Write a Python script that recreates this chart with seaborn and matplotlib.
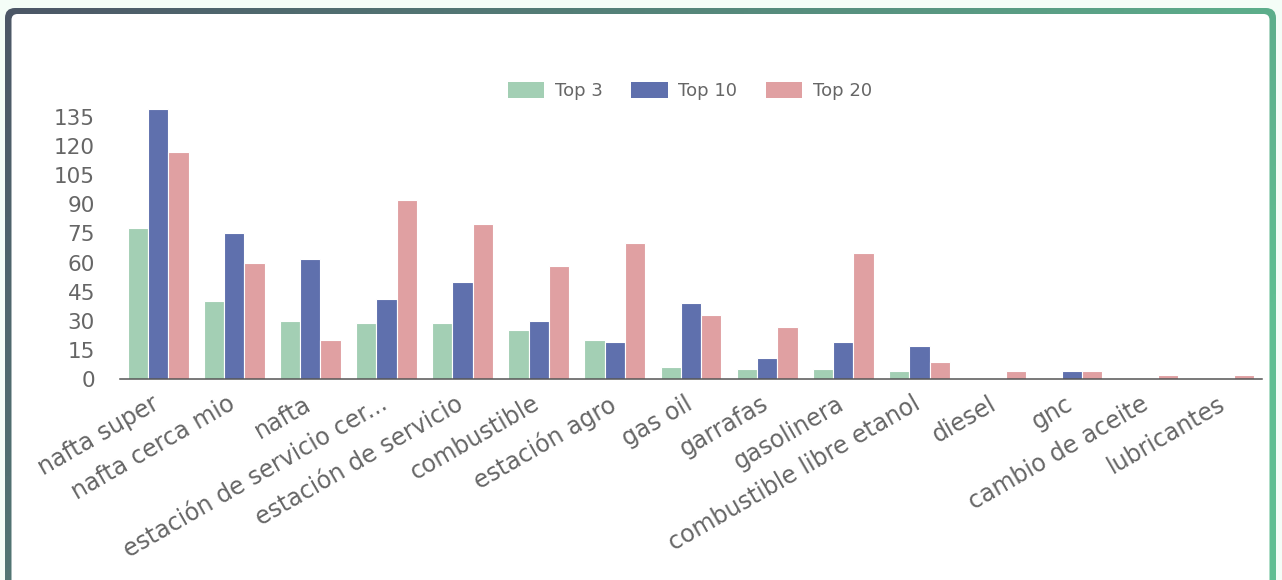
import numpy as np
import pandas as pd
import matplotlib.pyplot as plt
import matplotlib.transforms as mtransforms
import seaborn as sns
from matplotlib.patches import FancyBboxPatch, Patch

# Datos del gráfico
terminos = ["nafta super", "nafta cerca mio", "nafta", "estación de servicio cer...",
            "estación de servicio", "combustible", "estación agro", "gas oil",
            "garrafas", "gasolinera", "combustible libre etanol", "diesel", "gnc",
            "cambio de aceite", "lubricantes"]
top3 = [78, 40, 30, 29, 29, 25, 20, 6, 5, 5, 4, 0.7, 0.7, 0, 0]
top10 = [139, 75, 62, 41, 50, 30, 19, 39, 11, 19, 17, 0, 4, 0, 0]
top20 = [117, 60, 20, 92, 80, 58, 70, 33, 27, 65, 9, 4, 4, 2, 2]
grupos = ["Top 3", "Top 10", "Top 20"]
colores = ["#a3cfb4", "#5f70ad", "#e0a0a2"]
yticks = [0, 15, 30, 45, 60, 75, 90, 105, 120, 135]

df = pd.DataFrame({
    "termino": terminos * 3,
    "valor": top3 + top10 + top20,
    "grupo": [g for g in grupos for _ in terminos],
})

sns.set_theme(style="white")
plt.rcParams["font.family"] = ["DejaVu Sans"]
texto = "#666666"

W, H = 1282, 580
fig = plt.figure(figsize=(W / 100, H / 100), dpi=100)
fig.patch.set_facecolor("#f4fdf7")

# Tarjeta con borde degradado
bg = fig.add_axes([0, 0, 1, 1], zorder=0)
bg.set_xlim(0, W)
bg.set_ylim(H, 0)
bg.axis("off")
xx, yy = np.meshgrid(np.linspace(0, 1, 300), np.linspace(0, 1, 150))
t = np.clip(xx * 0.85 + yy * 0.3, 0, 1)
c0 = np.array([76, 86, 102]) / 255
c1 = np.array([96, 190, 146]) / 255
grad = c0 + (c1 - c0) * t[..., None]
img = bg.imshow(grad, extent=[0, W, H, 0], aspect="auto", zorder=1)
borde = FancyBboxPatch((5, 8), W - 11, H + 40, boxstyle="round,pad=0,rounding_size=10",
                       transform=bg.transData, facecolor="none", edgecolor="none")
bg.add_patch(borde)
img.set_clip_path(borde)
bg.add_patch(FancyBboxPatch((11.5, 14), W - 24, H + 40, boxstyle="round,pad=0,rounding_size=6",
                            facecolor="white", edgecolor="none", zorder=2))

# Gráfico de barras
ax = fig.add_axes([120 / W, 201 / H, 1142 / W, 271.7 / H], zorder=3)
ax.patch.set_alpha(0)
sns.barplot(data=df, x="termino", y="valor", hue="grupo", palette=colores,
            saturation=1, width=0.8, edgecolor="white", linewidth=0.8, ax=ax)

ax.set_ylim(0, 140)
ax.set_xlim(-0.5, len(terminos) - 0.5)
ax.set_yticks(yticks)
ax.set_yticklabels([str(v) for v in yticks])
ax.set_xlabel("")
ax.set_ylabel("")
for s in ["top", "right", "left"]:
    ax.spines[s].set_visible(False)
ax.spines["bottom"].set_color("#555555")
ax.spines["bottom"].set_linewidth(1.1)
ax.tick_params(axis="y", length=0, pad=18, labelsize=15.5, labelcolor=texto)
ax.tick_params(axis="x", length=0, pad=9, labelsize=17, labelcolor=texto)
desplaza = mtransforms.ScaledTranslation(-7 / 100, 0, fig.dpi_scale_trans)
for lab in ax.get_xticklabels():
    lab.set_rotation(30)
    lab.set_ha("right")
    lab.set_va("top")
    lab.set_rotation_mode("anchor")
    lab.set_transform(lab.get_transform() + desplaza)

ax.legend_.remove()
handles = [Patch(facecolor=c, edgecolor="none") for c in colores]
fig.legend(handles, grupos, loc="center", bbox_to_anchor=(690 / W, 1 - 91 / H),
           ncol=3, frameon=False, fontsize=13, labelcolor=texto,
           handlelength=2.0, handleheight=0.95, handletextpad=0.6, columnspacing=1.6)

plt.savefig("out.png", dpi=100)
plt.close()
